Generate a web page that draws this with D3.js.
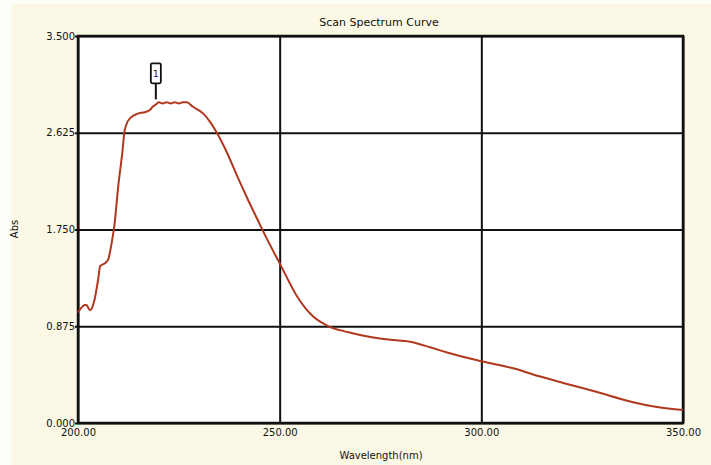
<!DOCTYPE html>
<html>
<head>
<meta charset="utf-8">
<script src="https://cdn.jsdelivr.net/npm/d3@7"></script>
<style>
  body { margin: 0; background: #fefef8; }
  text { font-family: "DejaVu Sans", Verdana, sans-serif; fill: #111; }
</style>
</head>
<body>
<div id="chart"></div>
<script>
// spectrum: wavelength (nm) and absorbance
var wavelengths = [200.0, 201.0, 202.0, 203.0, 204.0, 205.0, 205.5, 206.5, 207.5, 208.0, 208.5, 209.0,
    210.0, 211.0, 211.5, 212.0, 213.0, 215.0, 216.5, 217.8, 218.5, 219.3, 220.0, 221.0, 222.0, 223.0,
    224.0, 225.0, 226.0, 227.0, 228.5, 231.0, 233.0, 234.5, 237.0, 239.5, 242.0, 244.5, 246.5,
    250.2, 254.4, 258.4, 262.0, 266.8, 272.5, 277.4, 282.3, 287.3, 291.5, 299.7, 307.9, 314.6, 320.3,
    328.7, 336.9, 343.6, 350.0]
var absorbance = [1.00, 1.05, 1.07, 1.02, 1.10, 1.30, 1.42, 1.44, 1.48, 1.56, 1.66, 1.78,
    2.15, 2.45, 2.63, 2.70, 2.76, 2.80, 2.81, 2.83, 2.86, 2.88, 2.90, 2.89, 2.90, 2.89,
    2.90, 2.89, 2.90, 2.90, 2.86, 2.80, 2.71, 2.62, 2.44, 2.23, 2.03, 1.84, 1.69,
    1.43, 1.14, 0.96, 0.877, 0.823, 0.778, 0.752, 0.735, 0.685, 0.637, 0.561, 0.495, 0.420, 0.362,
    0.280, 0.195, 0.145, 0.118]
var xTicks = [200, 250, 300, 350]
var yTicks = [0, 0.875, 1.75, 2.625, 3.5]
var peakLabel = "1"
var peakWavelength = 219.3

var W = 711, H = 465
var margin = {top: 36, right: 28, bottom: 42, left: 78}
var width = W - margin.left - margin.right
var height = H - margin.top - margin.bottom

var data = wavelengths.map((w, i) => ({w: w, a: absorbance[i]}))

var svg = d3.select("#chart")
    .append("svg")
        .attr("width", W)
        .attr("height", H)

// cream panel behind the plot
svg.append("rect")
    .attr("x", 12)
    .attr("y", 4)
    .attr("width", W - 12)
    .attr("height", H - 4)
    .style("fill", "#fbf9e6")

var g = svg.append("g")
    .attr("transform", "translate(" + margin.left + "," + margin.top + ")")

g.append("rect")
    .attr("width", width)
    .attr("height", height)
    .style("fill", "#fff")

var x = d3.scaleLinear()
    .domain([200, 350])
    .range([0, width])

var y = d3.scaleLinear()
    .domain([0, 3.5])
    .range([height, 0])

// grid + y labels
var yAxis = g.append("g")
    .call(d3.axisLeft(y)
        .tickValues(yTicks)
        .tickSize(-width - 3)
        .tickPadding(1)
        .tickFormat(d3.format(".3f")))
yAxis.select(".domain").remove()
yAxis.selectAll(".tick line")
    .attr("x1", -3)
    .attr("x2", width)
    .attr("stroke", "#111")
    .attr("stroke-width", 2)
yAxis.selectAll(".tick text")
    .attr("x", -3)
    .style("font-size", "10px")
    .style("font-family", "DejaVu Sans, sans-serif")

// grid + x labels
var xAxis = g.append("g")
    .attr("transform", "translate(0," + height + ")")
    .call(d3.axisBottom(x)
        .tickValues(xTicks)
        .tickSize(-height)
        .tickPadding(6)
        .tickFormat(d3.format(".2f")))
xAxis.select(".domain").remove()
xAxis.selectAll(".tick line")
    .attr("stroke", "#111")
    .attr("stroke-width", 2)
xAxis.selectAll(".tick text")
    .style("font-size", "10px")
    .style("font-family", "DejaVu Sans, sans-serif")

// frame
g.append("rect")
    .attr("width", width)
    .attr("height", height)
    .style("fill", "none")
    .style("stroke", "#111")
    .style("stroke-width", 2.5)

// spectrum
var line = d3.line()
    .x(d => x(d.w))
    .y(d => y(d.a))
    .curve(d3.curveMonotoneX)

g.append("path")
    .datum(data)
    .attr("d", line)
    .style("fill", "none")
    .style("stroke", "#b0381e")
    .style("stroke-width", 2)

// peak marker
var px = x(peakWavelength)
var py = y(2.90) - 3
g.append("line")
    .attr("x1", px).attr("x2", px)
    .attr("y1", py).attr("y2", py - 16)
    .attr("stroke", "#111")
    .attr("stroke-width", 2)
g.append("rect")
    .attr("x", px - 5)
    .attr("y", py - 36)
    .attr("width", 10)
    .attr("height", 20)
    .attr("rx", 1.5)
    .style("fill", "#fff")
    .style("stroke", "#111")
    .style("stroke-width", 1.8)
g.append("text")
    .attr("x", px)
    .attr("y", py - 22)
    .attr("text-anchor", "middle")
    .style("font-size", "9px")
    .text(peakLabel)

// titles
svg.append("text")
    .attr("x", 379)
    .attr("y", 26)
    .attr("text-anchor", "middle")
    .style("font-size", "11px")
    .text("Scan Spectrum Curve")

svg.append("text")
    .attr("x", 381)
    .attr("y", 459)
    .attr("text-anchor", "middle")
    .style("font-size", "10px")
    .text("Wavelength(nm)")

svg.append("text")
    .attr("transform", "translate(18,229) rotate(-90)")
    .attr("text-anchor", "middle")
    .style("font-size", "10px")
    .text("Abs")
</script>
</body>
</html>
